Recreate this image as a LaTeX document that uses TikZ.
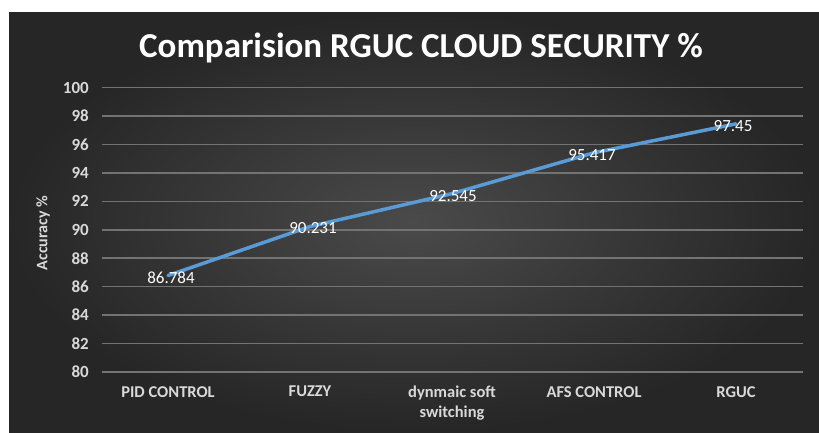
\documentclass[tikz,border=0pt]{standalone}
\usepackage{fontspec}
\setmainfont{Carlito}
\usetikzlibrary{positioning}

\definecolor{chartdark}{HTML}{262626}
\definecolor{chartmid}{HTML}{4A4A4A}
\definecolor{gridgray}{HTML}{737373}
\definecolor{labelgray}{HTML}{D9D9D9}
\definecolor{seriesblue}{HTML}{5B9BD5}

\begin{document}
\begin{tikzpicture}[x=1pt, y=1pt,
  grid/.style={draw=gridgray, line width=1.6pt},
  ticklbl/.style={anchor=east, text=labelgray, font=\bfseries\fontsize{17}{17}\selectfont, inner sep=0pt},
  catlbl/.style={anchor=north, text=labelgray, align=center, font=\bfseries\fontsize{16.5}{20}\selectfont, inner sep=0pt},
  vallbl/.style={text=white, font=\fontsize{17}{17}\selectfont, inner sep=0pt},
  series/.style={draw=seriesblue, line width=3.5pt, line cap=round, line join=round}]
\useasboundingbox (0,0) rectangle (819,432);
% chart area
\shade[inner color=chartmid, outer color=chartdark] (9,0) rectangle (819,419);
\node[text=white, font=\bfseries\fontsize{35}{35}\selectfont] (title) at (421,384) {Comparision RGUC CLOUD SECURITY \%};
% horizontal grid and value axis
\foreach \v in {80,82,...,100} {
  \draw[grid] (102,{60+(\v-80)*14.22}) -- (803,{60+(\v-80)*14.22});
  \node[ticklbl] (tick\v) at (89,{60+(\v-80)*14.22}) {\v};
}
\node[rotate=90, text=labelgray, font=\bfseries\fontsize{16}{16}\selectfont] (ytitle) at (43,199) {Accuracy \%};
% categories
\foreach \x/\name/\txt in {168/pid/PID CONTROL, 310/fuzzy/FUZZY, 452/dss/dynmaic soft\\switching, 594/afs/AFS CONTROL, 736/rguc/RGUC}
  \node[catlbl] (cat-\name) at (\x,46) {\txt};
% data points
\foreach \x/\name/\v in {168/pid/86.784, 310/fuzzy/90.231, 452/dss/92.545, 594/afs/95.417, 736/rguc/97.45}
  \coordinate (pt-\name) at (\x,{60+(\v-80)*14.22});
\draw[series] (pt-pid) -- (pt-fuzzy) -- (pt-dss) -- (pt-afs) -- (pt-rguc);
\foreach \name/\v/\dx in {pid/86.784/3, fuzzy/90.231/3, dss/92.545/1, afs/95.417/-2, rguc/97.45/-3}
  \node[vallbl, xshift=\dx pt, yshift=-2pt] (val-\name) at (pt-\name) {\v};
\end{tikzpicture}
\end{document}
